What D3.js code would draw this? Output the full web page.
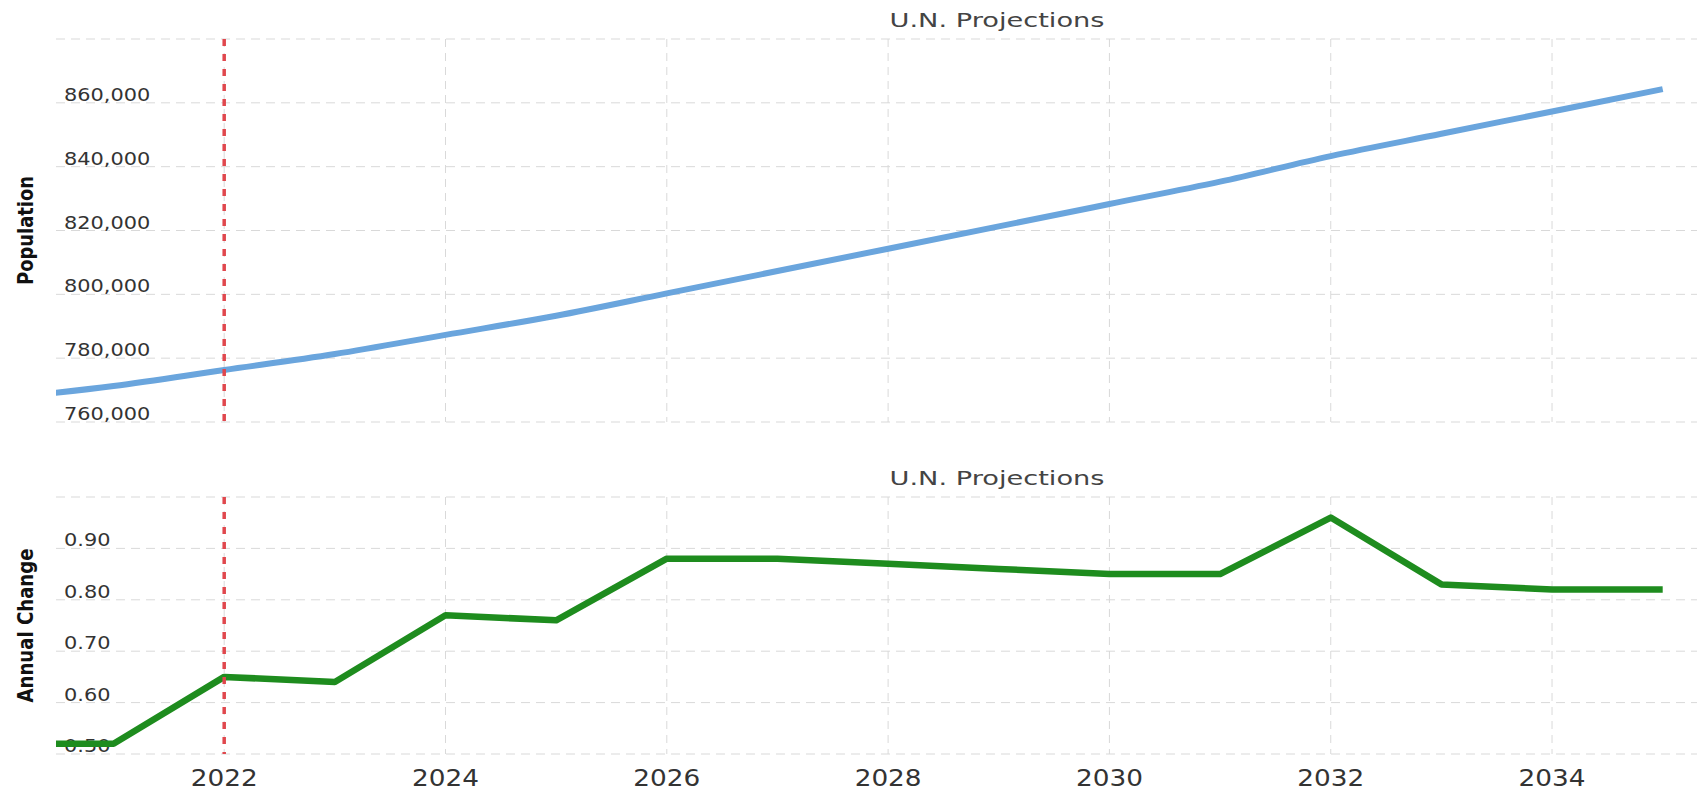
<!DOCTYPE html>
<html>
<head>
<meta charset="utf-8">
<script src="https://cdn.jsdelivr.net/npm/d3@7"></script>
<style>
  body { margin: 0; background: #fff; }
  svg { display: block; font-family: "DejaVu Sans", Verdana, sans-serif; }
</style>
</head>
<body>
<div id="chart"></div>
<script>
// valores
const years = [2020, 2021, 2022, 2023, 2024, 2025, 2026, 2027, 2028, 2029, 2030, 2031, 2032, 2033, 2034, 2035];
const population = [767400, 771300, 776300, 781300, 787300, 793300, 800300, 807300, 814300, 821300, 828300, 835300, 843300, 850300, 857300, 864300];
const annualChange = [0.52, 0.52, 0.65, 0.64, 0.77, 0.76, 0.88, 0.88, 0.87, 0.86, 0.85, 0.85, 0.96, 0.83, 0.82, 0.82];
const yearTicks = [2022, 2024, 2026, 2028, 2030, 2032, 2034];
const popTicks = [760000, 780000, 800000, 820000, 840000, 860000];
const changeTicks = [0.5, 0.6, 0.7, 0.8, 0.9];
const currentYear = 2022;
const chartTitle = "U.N. Projections";

const WIDTH = 1701, HEIGHT = 791;
const plotLeft = 56, plotRight = 1697;

const svg = d3.select('#chart').append('svg')
    .attr('width', WIDTH)
    .attr('height', HEIGHT);

const x = d3.scaleLinear()
    .domain([2020.48, 2035.31])
    .range([plotLeft, plotRight]);

// un panel por serie
function panel(cfg) {
    const y = d3.scaleLinear().domain(cfg.domain).range([cfg.bottom, cfg.top]);
    const g = svg.append('g');

    g.append('clipPath').attr('id', cfg.id + '-clip')
      .append('rect')
        .attr('x', plotLeft).attr('y', cfg.top - 10)
        .attr('width', plotRight - plotLeft).attr('height', cfg.bottom - cfg.top + 20);

    // rejilla horizontal
    g.selectAll('.hgrid').data(y.ticks(cfg.gridCount)).enter().append('line')
        .attr('x1', plotLeft).attr('x2', plotRight)
        .attr('y1', d => y(d)).attr('y2', d => y(d))
        .attr('stroke', '#d9d9d9').attr('stroke-width', 1)
        .attr('stroke-dasharray', '9,6');

    // rejilla vertical
    g.selectAll('.vgrid').data(yearTicks).enter().append('line')
        .attr('x1', d => x(d)).attr('x2', d => x(d))
        .attr('y1', cfg.top).attr('y2', cfg.bottom)
        .attr('stroke', '#d9d9d9').attr('stroke-width', 1)
        .attr('stroke-dasharray', '8,6');

    // etiquetas del eje y, dentro del area
    g.selectAll('.ylab').data(cfg.ticks).enter().append('text')
        .attr('transform', d => `translate(64,${y(d) - 2}) scale(1.2,1)`)
        .style('font-size', '17.4px')
        .attr('fill', '#333')
        .text(cfg.format);

    // nombre del eje
    g.append('text')
        .attr('transform', `translate(33,${(cfg.top + cfg.bottom) / 2}) rotate(-90)`)
        .attr('text-anchor', 'middle')
        .attr('textLength', cfg.labelLength)
        .attr('lengthAdjust', 'spacingAndGlyphs')
        .style('font-size', '21px')
        .style('font-weight', 'bold')
        .attr('fill', '#111')
        .text(cfg.label);

    // titulo
    g.append('text')
        .attr('x', 997).attr('y', cfg.titleY)
        .attr('text-anchor', 'middle')
        .attr('textLength', 215)
        .attr('lengthAdjust', 'spacingAndGlyphs')
        .style('font-size', '19.6px')
        .attr('fill', '#444')
        .text(chartTitle);

    const line = d3.line()
        .x((d, i) => x(years[i]))
        .y(d => y(d))
        .curve(cfg.curve);

    g.append('path')
        .datum(cfg.values)
        .attr('clip-path', `url(#${cfg.id}-clip)`)
        .attr('d', line)
        .attr('fill', 'none')
        .attr('stroke', cfg.color)
        .attr('stroke-width', cfg.width)
        .attr('stroke-linejoin', 'round');

    // linea del año actual
    g.append('line')
        .attr('x1', x(currentYear)).attr('x2', x(currentYear))
        .attr('y1', cfg.top).attr('y2', cfg.bottom)
        .attr('stroke', '#e0474d').attr('stroke-width', 3.5)
        .attr('stroke-dasharray', '7,8');

    return y;
}

panel({
    id: 'pop', top: 39, bottom: 422, domain: [760000, 880000], gridCount: 6,
    ticks: popTicks, format: d3.format(','), label: 'Population', labelLength: 109,
    titleY: 27, values: population, color: '#6aa5dd', width: 6, curve: d3.curveMonotoneX
});

panel({
    id: 'chg', top: 497, bottom: 754, domain: [0.5, 1.0], gridCount: 5,
    ticks: changeTicks, format: d3.format('.2f'), label: 'Annual Change', labelLength: 154,
    titleY: 485, values: annualChange, color: '#1e8c1e', width: 6.5, curve: d3.curveLinear
});

// etiquetas del eje x
svg.selectAll('.xlab').data(yearTicks).enter().append('text')
    .attr('transform', d => `translate(${x(d)},786) scale(1.17,1)`)
    .attr('text-anchor', 'middle')
    .style('font-size', '22.5px')
    .attr('fill', '#333')
    .text(d => d);
</script>
</body>
</html>
